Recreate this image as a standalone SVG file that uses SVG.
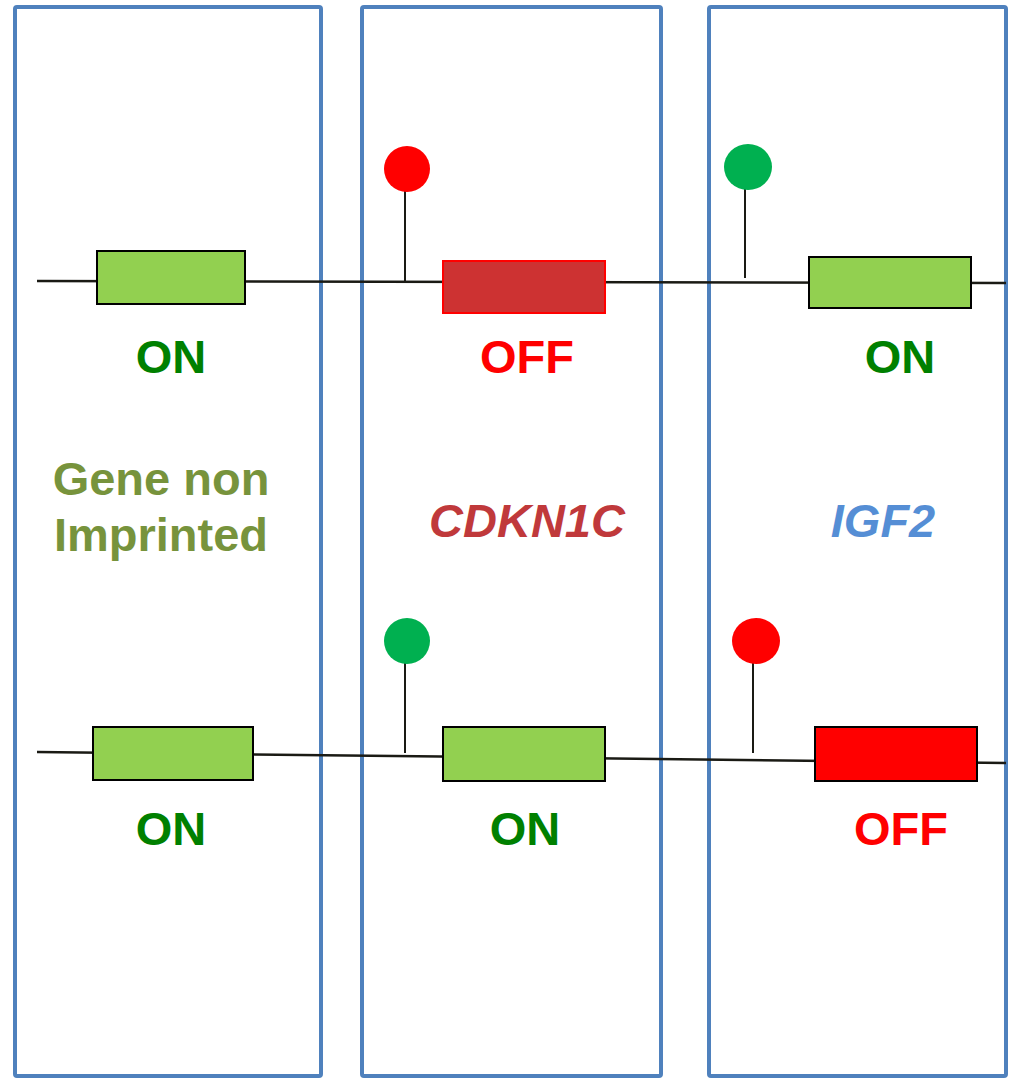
<svg xmlns="http://www.w3.org/2000/svg" width="1009" height="1078" viewBox="0 0 1009 1078">
<style>
.panel{fill:none;stroke:#4F81BD;stroke-width:4}
.dna{fill:none;stroke:#1a1a14;stroke-width:2.5}
.stem{stroke:#1a1a14;stroke-width:2}
.on{fill:#92D050;stroke:#000;stroke-width:2}
.lbl{font-family:"Liberation Sans",Arial,sans-serif;font-weight:bold;font-size:47px;text-anchor:middle}
.g{fill:#008000}
.r{fill:#FF0000}
</style>
<rect width="1009" height="1078" fill="#fff"/>
<g id="panels">
<rect id="panel-nonimprinted" class="panel" x="15" y="7" width="306" height="1069" rx="2"/>
<rect id="panel-cdkn1c" class="panel" x="362" y="7" width="299" height="1069" rx="2"/>
<rect id="panel-igf2" class="panel" x="709" y="7" width="297" height="1069" rx="2"/>
</g>
<g id="connectors">
<line class="dna" x1="37" y1="281" x2="1006" y2="283"/>
<line class="dna" x1="37" y1="752" x2="1006" y2="763"/>
<line class="stem" x1="405" y1="190" x2="405" y2="282"/>
<line class="stem" x1="745" y1="188" x2="745" y2="278"/>
<line class="stem" x1="405" y1="662" x2="405" y2="753"/>
<line class="stem" x1="753" y1="662" x2="753" y2="753"/>
</g>
<g id="gene-top-1"><rect class="on" x="97" y="251" width="148" height="53"/></g>
<g id="gene-top-2"><rect x="443" y="261" width="162" height="52" fill="#CD3232" stroke="#FF0000" stroke-width="2"/></g>
<g id="gene-top-3"><rect class="on" x="809" y="257" width="162" height="51"/></g>
<g id="gene-bot-1"><rect class="on" x="93" y="727" width="160" height="53"/></g>
<g id="gene-bot-2"><rect class="on" x="443" y="727" width="162" height="54"/></g>
<g id="gene-bot-3"><rect x="815" y="727" width="162" height="54" fill="#FF0000" stroke="#000" stroke-width="2"/></g>
<g id="meth-top-2"><circle cx="407" cy="169" r="23" fill="#FF0000"/></g>
<g id="meth-top-3"><ellipse cx="748" cy="167" rx="24" ry="23" fill="#00B050"/></g>
<g id="meth-bot-2"><circle cx="407" cy="641" r="23" fill="#00B050"/></g>
<g id="meth-bot-3"><ellipse cx="756" cy="641" rx="24" ry="23" fill="#FF0000"/></g>
<g id="labels">
<text class="lbl g" x="171" y="373">ON</text>
<text class="lbl r" x="527" y="373">OFF</text>
<text class="lbl g" x="900" y="373">ON</text>
<text class="lbl g" x="171" y="845">ON</text>
<text class="lbl g" x="525" y="845">ON</text>
<text class="lbl r" x="901" y="845">OFF</text>
<text class="lbl" x="161" y="495" fill="#77933C">Gene non</text>
<text class="lbl" x="161" y="551" fill="#77933C">Imprinted</text>
<text class="lbl" x="527" y="537" fill="#C0393B" font-style="italic" font-size="48">CDKN1C</text>
<text class="lbl" x="883" y="537" fill="#558ED5" font-style="italic" font-size="48">IGF2</text>
</g>
</svg>
